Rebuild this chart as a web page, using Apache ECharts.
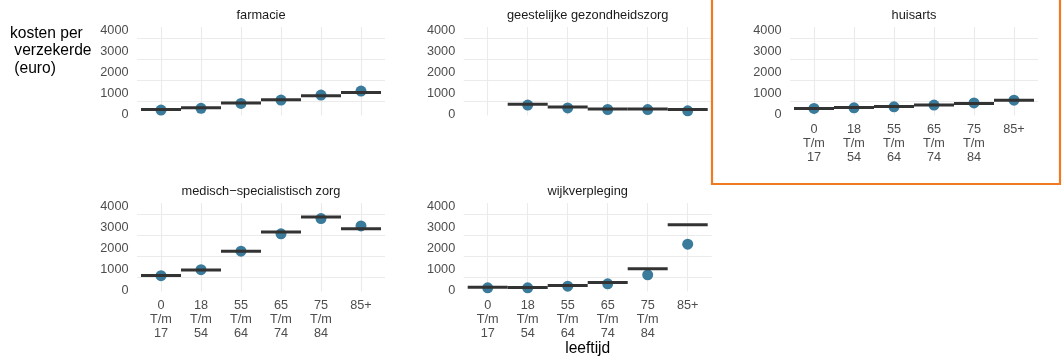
<!DOCTYPE html>
<html>
<head>
<meta charset="utf-8">
<script src="https://cdn.jsdelivr.net/npm/echarts@6/dist/echarts.min.js"></script>
<style>
html,body{margin:0;padding:0;background:#fff;}
#chart{width:1062px;height:358px;}
</style>
</head>
<body>
<div id="chart"></div>
<script>
// ---- data ----
const categories = ['0\nT/m\n17', '18\nT/m\n54', '55\nT/m\n64', '65\nT/m\n74', '75\nT/m\n84', '85+'];
const yTickLabels = [0, 1000, 2000, 3000, 4000];
const yGridValues = [500, 1500, 2500, 3500];

const panelTitles = ['farmacie', 'geestelijke gezondheidszorg', 'huisarts', 'medisch\u2212specialistisch zorg', 'wijkverpleging'];

const farmaciePoints   = [90, 170, 405, 565, 800, 990];
const farmacieLines    = [120, 195, 420, 580, 770, 930];
const ggzPoints        = [null, 325, 190, 115, 110, 55];
const ggzLines         = [null, 370, 235, 145, 140, 110];
const huisartsPoints   = [165, 195, 245, 325, 430, 560];
const huisartsLines    = [165, 215, 260, 325, 405, 550];
const msPoints         = [580, 870, 1750, 2575, 3300, 2950];
const msLines          = [595, 855, 1740, 2655, 3370, 2815];
const wijkPoints       = [5, 5, 85, 195, 625, 2080];
const wijkLines        = [35, 25, 120, 260, 910, 3010];

const yAxisTitle = 'kosten per\n verzekerde\n (euro)';
const xAxisTitle = 'leeftijd';

// ---- layout ----
const FONT = "'Liberation Sans', Arial, Helvetica, sans-serif";
const panels = [
  {title: panelTitles[0], pts: farmaciePoints, lns: farmacieLines, left: 137, top: 27, xlab: false},
  {title: panelTitles[1], pts: ggzPoints, lns: ggzLines, left: 463.7, top: 27, xlab: false},
  {title: panelTitles[2], pts: huisartsPoints, lns: huisartsLines, left: 790, top: 27, xlab: true},
  {title: panelTitles[3], pts: msPoints, lns: msLines, left: 137, top: 203, xlab: true},
  {title: panelTitles[4], pts: wijkPoints, lns: wijkLines, left: 463.7, top: 203, xlab: true}
];
const PW = 248, PH = 88.5;

const grid = [], xAxis = [], yAxis = [], series = [], graphic = [];
panels.forEach((p, k) => {
  grid.push({left: p.left, top: p.top, width: PW, height: PH, containLabel: false});
  xAxis.push({
    type: 'value', gridIndex: k, min: -0.6, max: 5.6,
    axisLine: {show: false},
    axisTick: {show: false, customValues: [0, 1, 2, 3, 4, 5]},
    splitLine: {show: true, lineStyle: {color: '#ebebeb', width: 1.1}},
    axisLabel: {
      show: p.xlab, customValues: [0, 1, 2, 3, 4, 5],
      formatter: v => categories[Math.round(v)],
      color: '#4d4d4d', fontFamily: FONT, fontSize: 12.7, lineHeight: 13.8, margin: 7.5
    }
  });
  yAxis.push({
    type: 'value', gridIndex: k, min: -170, max: 4040,
    axisLine: {show: false},
    axisTick: {show: false, customValues: yGridValues},
    splitLine: {show: true, lineStyle: {color: '#ebebeb', width: 1.1}},
    axisLabel: {
      customValues: yTickLabels, color: '#4d4d4d', fontFamily: FONT, fontSize: 12.7, margin: 8.5,
      verticalAlign: 'top', lineHeight: 5.6,
      formatter: v => String(v)
    }
  });
  const ptsData = [], lnsData = [];
  p.pts.forEach((v, i) => { if (v !== null) ptsData.push([i, v]); });
  p.lns.forEach((v, i) => { if (v !== null) lnsData.push([i, v]); });
  series.push({
    type: 'scatter', xAxisIndex: k, yAxisIndex: k, data: ptsData,
    symbolSize: 11, itemStyle: {color: '#3a7a9a', opacity: 1}, z: 2, silent: true
  });
  series.push({
    type: 'custom', xAxisIndex: k, yAxisIndex: k, data: lnsData, z: 3, silent: true,
    renderItem: (params, api) => {
      const i = api.value(0), v = api.value(1);
      const a = api.coord([i - 0.5, v]), b = api.coord([i + 0.5, v]);
      return {type: 'line', shape: {x1: a[0], y1: a[1], x2: b[0], y2: b[1]},
              style: {stroke: '#333333', lineWidth: 3}};
    }
  });
  graphic.push({
    type: 'text', x: p.left + PW / 2, y: p.top - 11.5,
    style: {text: p.title, fill: '#1a1a1a', font: '12.8px ' + FONT, align: 'center', verticalAlign: 'middle'}
  });
});

graphic.push({
  type: 'text', x: 10, y: 24.5,
  style: {text: yAxisTitle, fill: '#000', font: '15.6px ' + FONT, align: 'left', verticalAlign: 'top', lineHeight: 17.5}
});
graphic.push({
  type: 'text', x: 587.7, y: 348.5,
  style: {text: xAxisTitle, fill: '#000', font: '15.6px ' + FONT, align: 'center', verticalAlign: 'middle'}
});
graphic.push({
  type: 'rect', shape: {x: 712, y: -2, width: 348, height: 186},
  style: {fill: 'none', stroke: '#f07a22', lineWidth: 2.2}, z: 10
});

const chart = echarts.init(document.getElementById('chart'), null, {renderer: 'canvas'});
chart.setOption({
  backgroundColor: '#ffffff',
  animation: false,
  grid, xAxis, yAxis, series, graphic
});
</script>
</body>
</html>
